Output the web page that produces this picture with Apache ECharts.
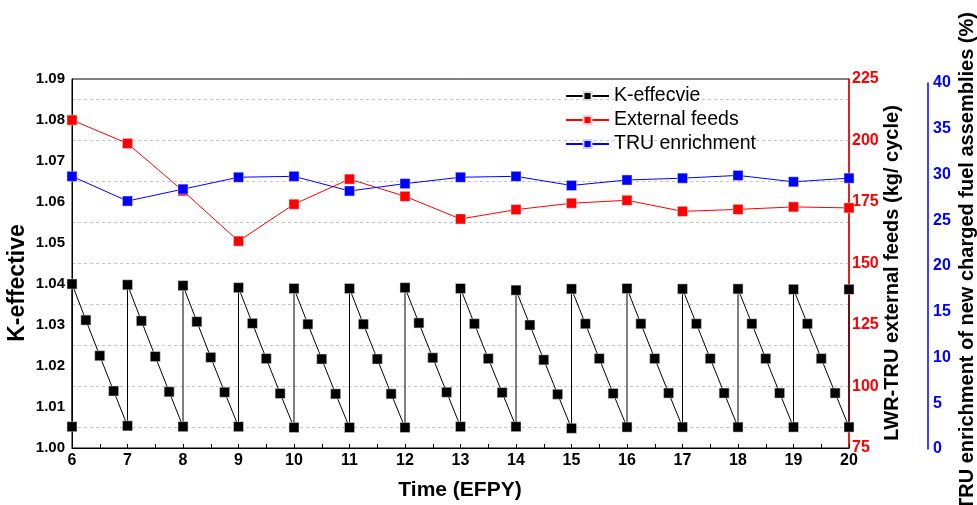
<!DOCTYPE html>
<html>
<head>
<meta charset="utf-8">
<script src="https://cdn.jsdelivr.net/npm/echarts@6/dist/echarts.min.js"></script>
<style>html,body{margin:0;padding:0;background:#fff;}#c{width:977px;height:505px;}</style>
</head>
<body>
<div id="c"></div>
<script>
// ---- data ----
const years = [6,7,8,9,10,11,12,13,14,15,16,17,18,19,20];
const kTime = [6,6,6.25,6.5,6.75,
  7,7,7.25,7.5,7.75,
  8,8,8.25,8.5,8.75,
  9,9,9.25,9.5,9.75,
  10,10,10.25,10.5,10.75,
  11,11,11.25,11.5,11.75,
  12,12,12.25,12.5,12.75,
  13,13,13.25,13.5,13.75,
  14,14,14.25,14.5,14.75,
  15,15,15.25,15.5,15.75,
  16,16,16.25,16.5,16.75,
  17,17,17.25,17.5,17.75,
  18,18,18.25,18.5,18.75,
  19,19,19.25,19.5,19.75,
  20,20];
const kEff = [1.0052,1.0400,1.0312,1.0225,1.0139,
  1.0054,1.0398,1.0310,1.0223,1.0137,
  1.0052,1.0396,1.0308,1.0221,1.0136,
  1.0052,1.0391,1.0304,1.0218,1.0133,
  1.0050,1.0389,1.0302,1.0217,1.0132,
  1.0050,1.0389,1.0302,1.0217,1.0132,
  1.0050,1.0391,1.0305,1.0220,1.0136,
  1.0052,1.0389,1.0303,1.0218,1.0135,
  1.0052,1.0385,1.0300,1.0215,1.0131,
  1.0048,1.0388,1.0303,1.0218,1.0133,
  1.0051,1.0389,1.0303,1.0218,1.0134,
  1.0051,1.0388,1.0303,1.0218,1.0134,
  1.0051,1.0388,1.0303,1.0218,1.0134,
  1.0051,1.0387,1.0303,1.0218,1.0134,
  1.0051,1.0387];
const externalFeeds = [208.3,198.8,179.5,159.1,174.1,184.3,177.3,168.1,171.9,174.5,175.7,171.2,172.0,173.0,172.6];
const truEnrichment = [29.8,27.1,28.4,29.7,29.8,28.2,29.0,29.7,29.8,28.8,29.4,29.6,29.9,29.2,29.6];
const seriesNames = ['K-effecvie','External feeds','TRU enrichment'];
const axisTitles = ['Time (EFPY)','K-effective','LWR-TRU external feeds (kg/ cycle)','TRU enrichment of new charged fuel assemblies (%)'];

const FONT = 'Liberation Sans, Arial, sans-serif';
const chart = echarts.init(document.getElementById('c'));
const pair = (xs, ys) => xs.map((x, i) => [x, ys[i]]);

function title(text, x, y, size, rot) {
  return {
    type: 'text', x: x, y: y, rotation: rot, z: 10,
    style: {
      text: text, fill: '#000', font: 'bold ' + size + 'px ' + FONT,
      align: 'center', verticalAlign: 'middle',
      textAlign: 'center', textVerticalAlign: 'middle'
    }
  };
}

chart.setOption({
  animation: false,
  backgroundColor: '#fff',
  textStyle: { fontFamily: FONT },
  grid: [
    { left: 72, right: 128, top: 79, bottom: 57, show: true, borderColor: '#000', borderWidth: 1, backgroundColor: 'transparent' },
    { left: 72, right: 128, top: 83, bottom: 56, show: false }
  ],
  legend: {
    orient: 'vertical', left: 565, top: 86, padding: 0,
    itemWidth: 43, itemHeight: 10, itemGap: 4,
    textStyle: { fontFamily: FONT, fontSize: 19.5, color: '#000', lineHeight: 20 },
    data: seriesNames
  },
  graphic: [
    title(axisTitles[0], 460, 490, 21, 0),
    title(axisTitles[1], 18, 283, 23, Math.PI / 2),
    title(axisTitles[2], 892, 273, 20, Math.PI / 2),
    title(axisTitles[3], 967, 261, 20, Math.PI / 2)
  ],
  xAxis: [
    {
      type: 'value', gridIndex: 0, min: 6, max: 20, interval: 1,
      axisLine: { show: true, lineStyle: { color: '#000', width: 1 } },
      axisTick: { show: true, inside: true, length: 4, lineStyle: { color: '#000' } },
      minorTick: { show: true, splitNumber: 2, length: 4, lineStyle: { color: '#000' } },
      axisLabel: { fontFamily: FONT, fontSize: 16, fontWeight: 'bold', color: '#000', margin: 5 },
      splitLine: { show: false }
    },
    { type: 'value', gridIndex: 1, min: 6, max: 20, interval: 1, show: false }
  ],
  yAxis: [
    {
      type: 'value', gridIndex: 0, min: 1.00, max: 1.09, interval: 0.01, position: 'left',
      axisLine: { show: true, lineStyle: { color: '#000', width: 1 } },
      axisTick: { show: false },
      axisLabel: { fontFamily: FONT, fontSize: 15, fontWeight: 'bold', color: '#000', margin: 7, formatter: v => v.toFixed(2) },
      splitLine: { show: false },
      minorTick: { show: false, splitNumber: 2 },
      minorSplitLine: { show: true, lineStyle: { color: '#c4c4c4', type: [3, 3], width: 1 } }
    },
    {
      type: 'value', gridIndex: 0, min: 75, max: 225, interval: 25, position: 'right',
      axisLine: { show: true, lineStyle: { color: '#ff0000', width: 1.5 } },
      axisTick: { show: false },
      axisLabel: { fontFamily: FONT, fontSize: 16, fontWeight: 'bold', color: '#ff0000', margin: 3 },
      splitLine: { show: false }
    },
    {
      type: 'value', gridIndex: 1, min: 0, max: 40, interval: 5, position: 'right', offset: 79,
      axisLine: { show: true, lineStyle: { color: '#0000ff', width: 1.5 } },
      axisTick: { show: false },
      axisLabel: { fontFamily: FONT, fontSize: 16, fontWeight: 'bold', color: '#0000ff', margin: 5 },
      splitLine: { show: false }
    }
  ],
  series: [
    {
      name: seriesNames[0], type: 'line', xAxisIndex: 0, yAxisIndex: 0,
      data: pair(kTime, kEff),
      symbol: 'rect', symbolSize: 10, showSymbol: true,
      itemStyle: { color: '#000', borderColor: '#ddd', borderWidth: 0.5 },
      lineStyle: { color: '#000', width: 1 }, z: 3
    },
    {
      name: seriesNames[1], type: 'line', xAxisIndex: 0, yAxisIndex: 1,
      data: pair(years, externalFeeds),
      symbol: 'rect', symbolSize: 10,
      itemStyle: { color: '#ff0000', borderColor: '#ffd0d0', borderWidth: 0.5 },
      lineStyle: { color: '#ff0000', width: 1 }, z: 3
    },
    {
      name: seriesNames[2], type: 'line', xAxisIndex: 1, yAxisIndex: 2,
      data: pair(years, truEnrichment),
      symbol: 'rect', symbolSize: 10,
      itemStyle: { color: '#0000ff', borderColor: '#d0d0ff', borderWidth: 0.5 },
      lineStyle: { color: '#0000ff', width: 1 }, z: 3
    }
  ]
});
</script>
</body>
</html>
